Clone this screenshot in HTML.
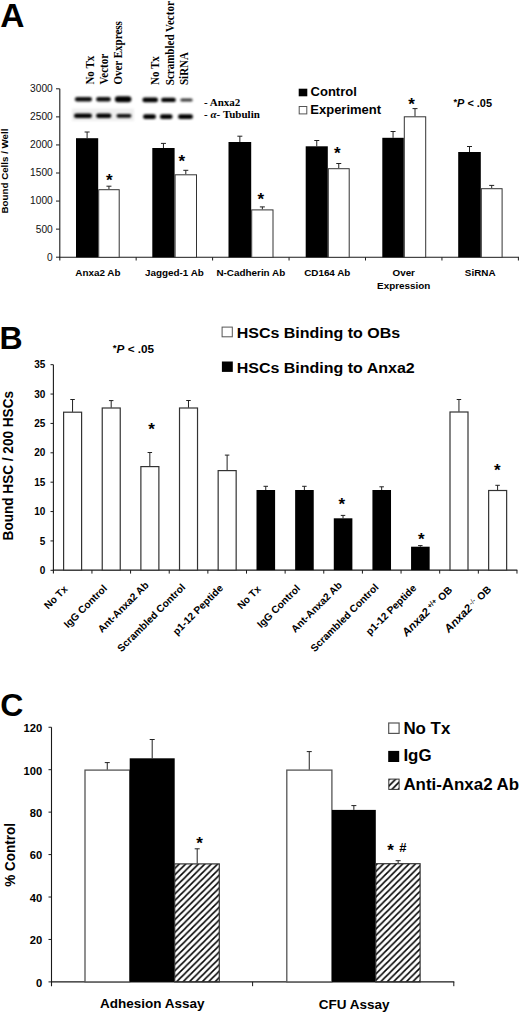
<!DOCTYPE html>
<html><head><meta charset="utf-8"><title>Figure</title>
<style>
html,body{margin:0;padding:0;background:#fff;}
body{width:520px;height:1013px;overflow:hidden;font-family:"Liberation Sans", sans-serif;}
svg{display:block;}
</style></head>
<body>
<svg width="520" height="1013" viewBox="0 0 520 1013">
<rect x="0" y="0" width="520" height="1013" fill="#fff"/>
<text x="0.2" y="27" font-family='"Liberation Sans", sans-serif' font-size="33.5" font-weight="bold" text-anchor="start" fill="#000" >A</text>
<line x1="59.8" y1="88.81" x2="59.8" y2="260.5" stroke="#1a1a1a" stroke-width="1.1"/>
<line x1="56" y1="257.2" x2="59.7" y2="257.2" stroke="#1a1a1a" stroke-width="1"/>
<text x="52.75" y="260.59999999999997" font-family='"Liberation Sans", sans-serif' font-size="10.2" font-weight="normal" text-anchor="end" fill="#111" >0</text>
<line x1="56" y1="229.135" x2="59.7" y2="229.135" stroke="#1a1a1a" stroke-width="1"/>
<text x="52.75" y="232.535" font-family='"Liberation Sans", sans-serif' font-size="10.2" font-weight="normal" text-anchor="end" fill="#111" >500</text>
<line x1="56" y1="201.07" x2="59.7" y2="201.07" stroke="#1a1a1a" stroke-width="1"/>
<text x="52.75" y="204.47" font-family='"Liberation Sans", sans-serif' font-size="10.2" font-weight="normal" text-anchor="end" fill="#111" >1000</text>
<line x1="56" y1="173.005" x2="59.7" y2="173.005" stroke="#1a1a1a" stroke-width="1"/>
<text x="52.75" y="176.405" font-family='"Liberation Sans", sans-serif' font-size="10.2" font-weight="normal" text-anchor="end" fill="#111" >1500</text>
<line x1="56" y1="144.94" x2="59.7" y2="144.94" stroke="#1a1a1a" stroke-width="1"/>
<text x="52.75" y="148.34" font-family='"Liberation Sans", sans-serif' font-size="10.2" font-weight="normal" text-anchor="end" fill="#111" >2000</text>
<line x1="56" y1="116.875" x2="59.7" y2="116.875" stroke="#1a1a1a" stroke-width="1"/>
<text x="52.75" y="120.275" font-family='"Liberation Sans", sans-serif' font-size="10.2" font-weight="normal" text-anchor="end" fill="#111" >2500</text>
<line x1="56" y1="88.81" x2="59.7" y2="88.81" stroke="#1a1a1a" stroke-width="1"/>
<text x="52.75" y="92.21000000000001" font-family='"Liberation Sans", sans-serif' font-size="10.2" font-weight="normal" text-anchor="end" fill="#111" >3000</text>
<line x1="59.2" y1="257.3" x2="519" y2="257.3" stroke="#1a1a1a" stroke-width="1.1"/>
<line x1="136.15" y1="257.3" x2="136.15" y2="260.5" stroke="#1a1a1a" stroke-width="1"/>
<line x1="212.60000000000002" y1="257.3" x2="212.60000000000002" y2="260.5" stroke="#1a1a1a" stroke-width="1"/>
<line x1="289.05" y1="257.3" x2="289.05" y2="260.5" stroke="#1a1a1a" stroke-width="1"/>
<line x1="365.5" y1="257.3" x2="365.5" y2="260.5" stroke="#1a1a1a" stroke-width="1"/>
<line x1="441.95" y1="257.3" x2="441.95" y2="260.5" stroke="#1a1a1a" stroke-width="1"/>
<line x1="518.4000000000001" y1="257.3" x2="518.4000000000001" y2="260.5" stroke="#1a1a1a" stroke-width="1"/>
<line x1="87.1" y1="132" x2="87.1" y2="138.2" stroke="#222" stroke-width="1"/>
<line x1="84.6" y1="132" x2="89.6" y2="132" stroke="#222" stroke-width="1"/>
<line x1="108.95" y1="186.2" x2="108.95" y2="189.2" stroke="#222" stroke-width="1"/>
<line x1="106.45" y1="186.2" x2="111.45" y2="186.2" stroke="#222" stroke-width="1"/>
<rect x="76" y="138.2" width="22.200000000000003" height="119.10000000000002" fill="#000" stroke="none" stroke-width="1"/>
<rect x="98.7" y="189.7" width="20.5" height="67.60000000000002" fill="#fff" stroke="#333" stroke-width="1"/>
<line x1="163.45" y1="143.4" x2="163.45" y2="148" stroke="#222" stroke-width="1"/>
<line x1="160.95" y1="143.4" x2="165.95" y2="143.4" stroke="#222" stroke-width="1"/>
<line x1="185.8" y1="170.3" x2="185.8" y2="174.3" stroke="#222" stroke-width="1"/>
<line x1="183.3" y1="170.3" x2="188.3" y2="170.3" stroke="#222" stroke-width="1"/>
<rect x="152.3" y="148" width="22.299999999999983" height="109.30000000000001" fill="#000" stroke="none" stroke-width="1"/>
<rect x="175.1" y="174.8" width="21.400000000000006" height="82.5" fill="#fff" stroke="#333" stroke-width="1"/>
<line x1="239.85" y1="136.2" x2="239.85" y2="142" stroke="#222" stroke-width="1"/>
<line x1="237.35" y1="136.2" x2="242.35" y2="136.2" stroke="#222" stroke-width="1"/>
<line x1="262.35" y1="206.9" x2="262.35" y2="209.4" stroke="#222" stroke-width="1"/>
<line x1="259.85" y1="206.9" x2="264.85" y2="206.9" stroke="#222" stroke-width="1"/>
<rect x="228.5" y="142" width="22.69999999999999" height="115.30000000000001" fill="#000" stroke="none" stroke-width="1"/>
<rect x="251.7" y="209.9" width="21.30000000000001" height="47.400000000000006" fill="#fff" stroke="#333" stroke-width="1"/>
<line x1="316.75" y1="140.5" x2="316.75" y2="146.3" stroke="#222" stroke-width="1"/>
<line x1="314.25" y1="140.5" x2="319.25" y2="140.5" stroke="#222" stroke-width="1"/>
<line x1="338.75" y1="163.5" x2="338.75" y2="168.2" stroke="#222" stroke-width="1"/>
<line x1="336.25" y1="163.5" x2="341.25" y2="163.5" stroke="#222" stroke-width="1"/>
<rect x="305.7" y="146.3" width="22.100000000000023" height="111.0" fill="#000" stroke="none" stroke-width="1"/>
<rect x="328.3" y="168.7" width="20.899999999999977" height="88.60000000000002" fill="#fff" stroke="#333" stroke-width="1"/>
<line x1="393.05" y1="131.5" x2="393.05" y2="137.8" stroke="#222" stroke-width="1"/>
<line x1="390.55" y1="131.5" x2="395.55" y2="131.5" stroke="#222" stroke-width="1"/>
<line x1="415.0" y1="108.6" x2="415.0" y2="116.3" stroke="#222" stroke-width="1"/>
<line x1="412.5" y1="108.6" x2="417.5" y2="108.6" stroke="#222" stroke-width="1"/>
<rect x="382.3" y="137.8" width="21.5" height="119.5" fill="#000" stroke="none" stroke-width="1"/>
<rect x="404.3" y="116.8" width="21.399999999999977" height="140.5" fill="#fff" stroke="#333" stroke-width="1"/>
<line x1="469.5" y1="146.5" x2="469.5" y2="152" stroke="#222" stroke-width="1"/>
<line x1="467.0" y1="146.5" x2="472.0" y2="146.5" stroke="#222" stroke-width="1"/>
<line x1="491.70000000000005" y1="185.4" x2="491.70000000000005" y2="188.2" stroke="#222" stroke-width="1"/>
<line x1="489.20000000000005" y1="185.4" x2="494.20000000000005" y2="185.4" stroke="#222" stroke-width="1"/>
<rect x="458.2" y="152" width="22.600000000000023" height="105.30000000000001" fill="#000" stroke="none" stroke-width="1"/>
<rect x="481.3" y="188.7" width="20.80000000000001" height="68.60000000000002" fill="#fff" stroke="#333" stroke-width="1"/>
<text x="106.09" y="186.19" font-family='"Liberation Sans", sans-serif' font-size="17" font-weight="bold">*</text>
<text x="178.49" y="166.69" font-family='"Liberation Sans", sans-serif' font-size="17" font-weight="bold">*</text>
<text x="257.49" y="204.74" font-family='"Liberation Sans", sans-serif' font-size="17" font-weight="bold">*</text>
<text x="333.88" y="159.14" font-family='"Liberation Sans", sans-serif' font-size="17" font-weight="bold">*</text>
<text x="408.19" y="109.99" font-family='"Liberation Sans", sans-serif' font-size="17" font-weight="bold">*</text>
<text x="97.92500000000001" y="275.5" font-family='"Liberation Sans", sans-serif' font-size="9.9" font-weight="bold" text-anchor="middle" fill="#000" >Anxa2 Ab</text>
<text x="174.375" y="275.5" font-family='"Liberation Sans", sans-serif' font-size="9.9" font-weight="bold" text-anchor="middle" fill="#000" >Jagged-1 Ab</text>
<text x="250.825" y="275.5" font-family='"Liberation Sans", sans-serif' font-size="9.9" font-weight="bold" text-anchor="middle" fill="#000" >N-Cadherin Ab</text>
<text x="327.275" y="275.5" font-family='"Liberation Sans", sans-serif' font-size="9.9" font-weight="bold" text-anchor="middle" fill="#000" >CD164 Ab</text>
<text x="480.175" y="275.5" font-family='"Liberation Sans", sans-serif' font-size="9.9" font-weight="bold" text-anchor="middle" fill="#000" >SiRNA</text>
<text x="403.725" y="275.6" font-family='"Liberation Sans", sans-serif' font-size="9.9" font-weight="bold" text-anchor="middle" fill="#000" >Over</text>
<text x="403.725" y="288.6" font-family='"Liberation Sans", sans-serif' font-size="9.9" font-weight="bold" text-anchor="middle" fill="#000" >Expression</text>
<text transform="translate(7.7,171) rotate(-90)" font-family='"Liberation Sans", sans-serif' font-size="9.75" font-weight="bold" text-anchor="middle">Bound Cells / Well</text>
<rect x="298.7" y="88.7" width="8.6" height="7.6" fill="#000" stroke="none" stroke-width="1"/>
<rect x="299.2" y="106.5" width="7.6" height="7.4" fill="#fff" stroke="#555" stroke-width="1"/>
<text x="310.6" y="96.3" font-family='"Liberation Sans", sans-serif' font-size="13" font-weight="bold" text-anchor="start" fill="#000" >Control</text>
<text x="310.3" y="114.2" font-family='"Liberation Sans", sans-serif' font-size="13" font-weight="bold" text-anchor="start" fill="#000" >Experiment</text>
<text transform="translate(453.4,106.6) scale(1.07,1)" font-family='"Liberation Sans", sans-serif' font-size="10.23" font-weight="bold"><tspan font-size="8.8" dy="-1.6">*</tspan><tspan font-style="italic" dy="1.6">P</tspan> &lt; .05</text>
<defs><filter id="bl" x="-20%" y="-100%" width="140%" height="300%"><feGaussianBlur stdDeviation="0.85"/></filter><filter id="bl2" x="-20%" y="-50%" width="140%" height="200%"><feGaussianBlur stdDeviation="1.2"/></filter><pattern id="hatch" patternUnits="userSpaceOnUse" width="6.4" height="6.4" patternTransform="translate(0.0,0)"><path d="M-1,1 l2,-2 M0,6.4 l6.4,-6.4 M5.4,7.4 l2,-2" stroke="#000" stroke-width="1.5"/></pattern><pattern id="hatch2" patternUnits="userSpaceOnUse" width="6.4" height="6.4" patternTransform="translate(5.7,0)"><path d="M-1,1 l2,-2 M0,6.4 l6.4,-6.4 M5.4,7.4 l2,-2" stroke="#000" stroke-width="1.5"/></pattern><pattern id="hatch3" patternUnits="userSpaceOnUse" width="6.45" height="6.45" patternTransform="translate(0.95,0)"><path d="M-1,1 l2,-2 M0,6.45 l6.45,-6.45 M5.45,7.45 l2,-2" stroke="#000" stroke-width="1.6"/></pattern></defs>
<rect x="72" y="108.5" width="62" height="12.5" fill="#efefef" filter="url(#bl2)"/>
<rect x="74.9" y="97.1" width="17.099999999999994" height="4.4" rx="2.2" fill="#000" fill-opacity="0.95" filter="url(#bl)"/>
<rect x="96.1" y="97.1" width="14.700000000000003" height="4.4" rx="2.2" fill="#000" fill-opacity="0.95" filter="url(#bl)"/>
<rect x="114.9" y="96.3" width="16.5" height="6.0" rx="3.0" fill="#000" fill-opacity="1" filter="url(#bl)"/>
<rect x="74.0" y="113.5" width="18.0" height="4.6" rx="2.3" fill="#000" fill-opacity="1" filter="url(#bl)"/>
<rect x="96.1" y="113.5" width="15.300000000000011" height="4.6" rx="2.3" fill="#000" fill-opacity="1" filter="url(#bl)"/>
<rect x="116.5" y="113.89999999999999" width="14.900000000000006" height="3.8" rx="1.9" fill="#000" fill-opacity="0.95" filter="url(#bl)"/>
<rect x="142.4" y="97.60000000000001" width="15.599999999999994" height="4.6" rx="2.3" fill="#000" fill-opacity="1" filter="url(#bl)"/>
<rect x="161.1" y="97.7" width="14.700000000000017" height="4.4" rx="2.2" fill="#000" fill-opacity="1" filter="url(#bl)"/>
<rect x="180.3" y="98.4" width="12.299999999999983" height="3.0" rx="1.5" fill="#000" fill-opacity="0.8" filter="url(#bl)"/>
<rect x="143.0" y="114.3" width="13.0" height="4.8" rx="2.4" fill="#000" fill-opacity="1" filter="url(#bl)"/>
<rect x="159.9" y="114.3" width="12.699999999999989" height="4.8" rx="2.4" fill="#000" fill-opacity="1" filter="url(#bl)"/>
<rect x="178.0" y="114.3" width="15.0" height="4.8" rx="2.4" fill="#000" fill-opacity="1" filter="url(#bl)"/>
<text transform="translate(93.5,84.6) rotate(-90) scale(1,1.06)" font-family='"Liberation Serif", serif' font-size="11" font-weight="bold">No Tx</text>
<text transform="translate(108.4,84.6) rotate(-90) scale(1,1.06)" font-family='"Liberation Serif", serif' font-size="11" font-weight="bold">Vector</text>
<text transform="translate(121.8,84.6) rotate(-90) scale(1,1.06)" font-family='"Liberation Serif", serif' font-size="11" font-weight="bold">Over Express</text>
<text transform="translate(159,85) rotate(-90) scale(1,1.06)" font-family='"Liberation Serif", serif' font-size="11" font-weight="bold">No Tx</text>
<text transform="translate(174,85.2) rotate(-90) scale(1,1.06)" font-family='"Liberation Serif", serif' font-size="11" font-weight="bold">Scrambled Vector</text>
<text transform="translate(188.4,85) rotate(-90) scale(1,1.06)" font-family='"Liberation Serif", serif' font-size="11" font-weight="bold">SiRNA</text>
<text transform="translate(204,105.5) scale(1.05,1)" font-family='"Liberation Serif", serif' font-size="10.48" font-weight="bold">- Anxa2</text>
<text transform="translate(204,117.9) scale(1.05,1)" font-family='"Liberation Serif", serif' font-size="10.48" font-weight="bold">- <tspan font-style="italic">α</tspan>- Tubulin</text>
<text x="-0.54" y="348.6" font-family='"Liberation Sans", sans-serif' font-size="32" font-weight="bold" text-anchor="start" fill="#000" >B</text>
<line x1="53.4" y1="364.67499999999995" x2="53.4" y2="573.6" stroke="#1a1a1a" stroke-width="1.1"/>
<line x1="50.5" y1="570.3" x2="53.4" y2="570.3" stroke="#1a1a1a" stroke-width="1"/>
<text x="45.35" y="573.9499999999999" font-family='"Liberation Sans", sans-serif' font-size="10" font-weight="bold" text-anchor="end" fill="#000" >0</text>
<line x1="50.5" y1="540.925" x2="53.4" y2="540.925" stroke="#1a1a1a" stroke-width="1"/>
<text x="45.35" y="544.5749999999999" font-family='"Liberation Sans", sans-serif' font-size="10" font-weight="bold" text-anchor="end" fill="#000" >5</text>
<line x1="50.5" y1="511.54999999999995" x2="53.4" y2="511.54999999999995" stroke="#1a1a1a" stroke-width="1"/>
<text x="45.35" y="515.1999999999999" font-family='"Liberation Sans", sans-serif' font-size="10" font-weight="bold" text-anchor="end" fill="#000" >10</text>
<line x1="50.5" y1="482.17499999999995" x2="53.4" y2="482.17499999999995" stroke="#1a1a1a" stroke-width="1"/>
<text x="45.35" y="485.82499999999993" font-family='"Liberation Sans", sans-serif' font-size="10" font-weight="bold" text-anchor="end" fill="#000" >15</text>
<line x1="50.5" y1="452.79999999999995" x2="53.4" y2="452.79999999999995" stroke="#1a1a1a" stroke-width="1"/>
<text x="45.35" y="456.44999999999993" font-family='"Liberation Sans", sans-serif' font-size="10" font-weight="bold" text-anchor="end" fill="#000" >20</text>
<line x1="50.5" y1="423.42499999999995" x2="53.4" y2="423.42499999999995" stroke="#1a1a1a" stroke-width="1"/>
<text x="45.35" y="427.07499999999993" font-family='"Liberation Sans", sans-serif' font-size="10" font-weight="bold" text-anchor="end" fill="#000" >25</text>
<line x1="50.5" y1="394.04999999999995" x2="53.4" y2="394.04999999999995" stroke="#1a1a1a" stroke-width="1"/>
<text x="45.35" y="397.69999999999993" font-family='"Liberation Sans", sans-serif' font-size="10" font-weight="bold" text-anchor="end" fill="#000" >30</text>
<line x1="50.5" y1="364.67499999999995" x2="53.4" y2="364.67499999999995" stroke="#1a1a1a" stroke-width="1"/>
<text x="45.35" y="368.32499999999993" font-family='"Liberation Sans", sans-serif' font-size="10" font-weight="bold" text-anchor="end" fill="#000" >35</text>
<line x1="52.9" y1="570.1" x2="517.3" y2="570.1" stroke="#1a1a1a" stroke-width="1.1"/>
<line x1="91.94" y1="570.1" x2="91.94" y2="573.6" stroke="#1a1a1a" stroke-width="1"/>
<line x1="130.57999999999998" y1="570.1" x2="130.57999999999998" y2="573.6" stroke="#1a1a1a" stroke-width="1"/>
<line x1="169.22" y1="570.1" x2="169.22" y2="573.6" stroke="#1a1a1a" stroke-width="1"/>
<line x1="207.86" y1="570.1" x2="207.86" y2="573.6" stroke="#1a1a1a" stroke-width="1"/>
<line x1="246.5" y1="570.1" x2="246.5" y2="573.6" stroke="#1a1a1a" stroke-width="1"/>
<line x1="285.14" y1="570.1" x2="285.14" y2="573.6" stroke="#1a1a1a" stroke-width="1"/>
<line x1="323.78000000000003" y1="570.1" x2="323.78000000000003" y2="573.6" stroke="#1a1a1a" stroke-width="1"/>
<line x1="362.42" y1="570.1" x2="362.42" y2="573.6" stroke="#1a1a1a" stroke-width="1"/>
<line x1="401.06" y1="570.1" x2="401.06" y2="573.6" stroke="#1a1a1a" stroke-width="1"/>
<line x1="439.7" y1="570.1" x2="439.7" y2="573.6" stroke="#1a1a1a" stroke-width="1"/>
<line x1="478.34000000000003" y1="570.1" x2="478.34000000000003" y2="573.6" stroke="#1a1a1a" stroke-width="1"/>
<line x1="516.98" y1="570.1" x2="516.98" y2="573.6" stroke="#1a1a1a" stroke-width="1"/>
<line x1="72.55" y1="399.5" x2="72.55" y2="411.9" stroke="#222" stroke-width="1"/>
<line x1="70.3" y1="399.5" x2="74.8" y2="399.5" stroke="#222" stroke-width="1"/>
<rect x="63.599999999999994" y="412.2" width="18.0" height="157.90000000000003" fill="#fff" stroke="#333" stroke-width="1.2"/>
<line x1="111.19" y1="400.6" x2="111.19" y2="407.7" stroke="#222" stroke-width="1"/>
<line x1="108.94" y1="400.6" x2="113.44" y2="400.6" stroke="#222" stroke-width="1"/>
<rect x="102.24" y="408.0" width="18.0" height="162.10000000000002" fill="#fff" stroke="#333" stroke-width="1.2"/>
<line x1="149.82999999999998" y1="452.5" x2="149.82999999999998" y2="466.3" stroke="#222" stroke-width="1"/>
<line x1="147.57999999999998" y1="452.5" x2="152.07999999999998" y2="452.5" stroke="#222" stroke-width="1"/>
<rect x="140.88" y="466.6" width="18.0" height="103.50000000000001" fill="#fff" stroke="#333" stroke-width="1.2"/>
<line x1="188.47" y1="400.5" x2="188.47" y2="407.7" stroke="#222" stroke-width="1"/>
<line x1="186.22" y1="400.5" x2="190.72" y2="400.5" stroke="#222" stroke-width="1"/>
<rect x="179.52" y="408.0" width="18.0" height="162.10000000000002" fill="#fff" stroke="#333" stroke-width="1.2"/>
<line x1="227.11" y1="455.1" x2="227.11" y2="470.3" stroke="#222" stroke-width="1"/>
<line x1="224.86" y1="455.1" x2="229.36" y2="455.1" stroke="#222" stroke-width="1"/>
<rect x="218.16000000000003" y="470.6" width="18.0" height="99.50000000000001" fill="#fff" stroke="#333" stroke-width="1.2"/>
<line x1="265.75" y1="486.3" x2="265.75" y2="490" stroke="#222" stroke-width="1"/>
<line x1="263.5" y1="486.3" x2="268.0" y2="486.3" stroke="#222" stroke-width="1"/>
<rect x="256.5" y="490" width="18.6" height="80.10000000000002" fill="#000" stroke="none" stroke-width="1"/>
<line x1="304.39" y1="486.3" x2="304.39" y2="490" stroke="#222" stroke-width="1"/>
<line x1="302.14" y1="486.3" x2="306.64" y2="486.3" stroke="#222" stroke-width="1"/>
<rect x="295.14" y="490" width="18.6" height="80.10000000000002" fill="#000" stroke="none" stroke-width="1"/>
<line x1="343.03000000000003" y1="515.4" x2="343.03000000000003" y2="518.3" stroke="#222" stroke-width="1"/>
<line x1="340.78000000000003" y1="515.4" x2="345.28000000000003" y2="515.4" stroke="#222" stroke-width="1"/>
<rect x="333.78000000000003" y="518.3" width="18.6" height="51.80000000000007" fill="#000" stroke="none" stroke-width="1"/>
<line x1="381.67" y1="486.8" x2="381.67" y2="490" stroke="#222" stroke-width="1"/>
<line x1="379.42" y1="486.8" x2="383.92" y2="486.8" stroke="#222" stroke-width="1"/>
<rect x="372.42" y="490" width="18.6" height="80.10000000000002" fill="#000" stroke="none" stroke-width="1"/>
<line x1="420.31" y1="545.6" x2="420.31" y2="546.7" stroke="#222" stroke-width="1"/>
<line x1="418.06" y1="545.6" x2="422.56" y2="545.6" stroke="#222" stroke-width="1"/>
<rect x="411.06" y="546.7" width="18.6" height="23.399999999999977" fill="#000" stroke="none" stroke-width="1"/>
<line x1="458.95" y1="399.5" x2="458.95" y2="411.7" stroke="#222" stroke-width="1"/>
<line x1="456.7" y1="399.5" x2="461.2" y2="399.5" stroke="#222" stroke-width="1"/>
<rect x="450.0" y="412.0" width="18.0" height="158.10000000000002" fill="#fff" stroke="#333" stroke-width="1.2"/>
<line x1="497.59000000000003" y1="485.3" x2="497.59000000000003" y2="490.2" stroke="#222" stroke-width="1"/>
<line x1="495.34000000000003" y1="485.3" x2="499.84000000000003" y2="485.3" stroke="#222" stroke-width="1"/>
<rect x="488.64000000000004" y="490.5" width="18.0" height="79.60000000000004" fill="#fff" stroke="#333" stroke-width="1.2"/>
<text x="148.19" y="434.69" font-family='"Liberation Sans", sans-serif' font-size="17" font-weight="bold">*</text>
<text x="338.58" y="509.73" font-family='"Liberation Sans", sans-serif' font-size="17" font-weight="bold">*</text>
<text x="418.08" y="544.63" font-family='"Liberation Sans", sans-serif' font-size="17" font-weight="bold">*</text>
<text x="493.99" y="475.83" font-family='"Liberation Sans", sans-serif' font-size="17" font-weight="bold">*</text>
<rect x="222.1" y="327.1" width="10.2" height="9.7" fill="#fff" stroke="#555" stroke-width="1"/>
<rect x="221.9" y="361.5" width="10.9" height="10.4" fill="#000" stroke="none" stroke-width="1"/>
<text transform="translate(236.7,338.2) scale(1.04,1)" font-family='"Liberation Sans", sans-serif' font-size="15.385" font-weight="bold" text-anchor="start" fill="#000" >HSCs Binding to OBs</text>
<text transform="translate(236.7,372.8) scale(1.04,1)" font-family='"Liberation Sans", sans-serif' font-size="15.385" font-weight="bold" text-anchor="start" fill="#000" >HSCs Binding to Anxa2</text>
<text transform="translate(112.7,352.5) scale(1.05,1)" font-family='"Liberation Sans", sans-serif' font-size="11.19" font-weight="bold"><tspan font-size="9.4" dy="-1.7">*</tspan><tspan font-style="italic" dy="1.7">P</tspan> &lt; .05</text>
<text transform="translate(12.9,465.7) rotate(-90) scale(1,1.12)" font-family='"Liberation Sans", sans-serif' font-size="13.6" font-weight="bold" text-anchor="middle">Bound HSC / 200 HSCs</text>
<text transform="translate(68.22,589.80) rotate(-45)" font-family='"Liberation Sans", sans-serif' font-size="10.2" font-weight="bold" text-anchor="end">No Tx</text>
<text transform="translate(107.68,588.98) rotate(-45)" font-family='"Liberation Sans", sans-serif' font-size="10.2" font-weight="bold" text-anchor="end">IgG Control</text>
<text transform="translate(149.46,585.84) rotate(-45)" font-family='"Liberation Sans", sans-serif' font-size="10.2" font-weight="bold" text-anchor="end">Ant-Anxa2 Ab</text>
<text transform="translate(185.98,587.96) rotate(-45)" font-family='"Liberation Sans", sans-serif' font-size="10.2" font-weight="bold" text-anchor="end">Scrambled Control</text>
<text transform="translate(223.77,588.81) rotate(-45)" font-family='"Liberation Sans", sans-serif' font-size="10.2" font-weight="bold" text-anchor="end">p1-12 Peptide</text>
<text transform="translate(261.42,589.80) rotate(-45)" font-family='"Liberation Sans", sans-serif' font-size="10.2" font-weight="bold" text-anchor="end">No Tx</text>
<text transform="translate(300.88,588.98) rotate(-45)" font-family='"Liberation Sans", sans-serif' font-size="10.2" font-weight="bold" text-anchor="end">IgG Control</text>
<text transform="translate(342.66,585.84) rotate(-45)" font-family='"Liberation Sans", sans-serif' font-size="10.2" font-weight="bold" text-anchor="end">Ant-Anxa2 Ab</text>
<text transform="translate(379.18,587.96) rotate(-45)" font-family='"Liberation Sans", sans-serif' font-size="10.2" font-weight="bold" text-anchor="end">Scrambled Control</text>
<text transform="translate(416.97,588.81) rotate(-45)" font-family='"Liberation Sans", sans-serif' font-size="10.2" font-weight="bold" text-anchor="end">p1-12 Peptide</text>
<text transform="translate(452.87,590.65) rotate(-45)" font-family='"Liberation Sans", sans-serif' font-size="10.2" font-weight="bold" text-anchor="end"><tspan font-style="italic" font-size="11.4">Anxa2</tspan><tspan font-size="7.2" dx="2.2" dy="-3.4">+/+</tspan><tspan dx="0.6" dy="3.4"> OB</tspan></text>
<text transform="translate(491.91,590.15) rotate(-45)" font-family='"Liberation Sans", sans-serif' font-size="10.2" font-weight="bold" text-anchor="end"><tspan font-style="italic" font-size="11.4">Anxa2</tspan><tspan font-weight="normal" font-size="7.2" dx="1.2" dy="-3.4">-/-</tspan><tspan dx="0.6" dy="3.4"> OB</tspan></text>
<text x="0.2" y="716.2" font-family='"Liberation Sans", sans-serif' font-size="32" font-weight="bold" text-anchor="start" fill="#000" >C</text>
<line x1="51.5" y1="727.26" x2="51.5" y2="986.2" stroke="#1a1a1a" stroke-width="1.1"/>
<line x1="48.5" y1="981.9" x2="51.5" y2="981.9" stroke="#1a1a1a" stroke-width="1"/>
<text x="42.2" y="986.8" font-family='"Liberation Sans", sans-serif' font-size="11.2" font-weight="bold" text-anchor="end" fill="#000" >0</text>
<line x1="48.5" y1="939.46" x2="51.5" y2="939.46" stroke="#1a1a1a" stroke-width="1"/>
<text x="42.2" y="944.36" font-family='"Liberation Sans", sans-serif' font-size="11.2" font-weight="bold" text-anchor="end" fill="#000" >20</text>
<line x1="48.5" y1="897.02" x2="51.5" y2="897.02" stroke="#1a1a1a" stroke-width="1"/>
<text x="42.2" y="901.92" font-family='"Liberation Sans", sans-serif' font-size="11.2" font-weight="bold" text-anchor="end" fill="#000" >40</text>
<line x1="48.5" y1="854.5799999999999" x2="51.5" y2="854.5799999999999" stroke="#1a1a1a" stroke-width="1"/>
<text x="42.2" y="859.4799999999999" font-family='"Liberation Sans", sans-serif' font-size="11.2" font-weight="bold" text-anchor="end" fill="#000" >60</text>
<line x1="48.5" y1="812.14" x2="51.5" y2="812.14" stroke="#1a1a1a" stroke-width="1"/>
<text x="42.2" y="817.04" font-family='"Liberation Sans", sans-serif' font-size="11.2" font-weight="bold" text-anchor="end" fill="#000" >80</text>
<line x1="48.5" y1="769.7" x2="51.5" y2="769.7" stroke="#1a1a1a" stroke-width="1"/>
<text x="42.2" y="774.6" font-family='"Liberation Sans", sans-serif' font-size="11.2" font-weight="bold" text-anchor="end" fill="#000" >100</text>
<line x1="48.5" y1="727.26" x2="51.5" y2="727.26" stroke="#1a1a1a" stroke-width="1"/>
<text x="42.2" y="732.16" font-family='"Liberation Sans", sans-serif' font-size="11.2" font-weight="bold" text-anchor="end" fill="#000" >120</text>
<line x1="51" y1="981.9" x2="454.3" y2="981.9" stroke="#1a1a1a" stroke-width="1.1"/>
<line x1="252.6" y1="981.9" x2="252.6" y2="986.2" stroke="#1a1a1a" stroke-width="1"/>
<line x1="453.8" y1="981.9" x2="453.8" y2="986.2" stroke="#1a1a1a" stroke-width="1"/>
<line x1="107.25" y1="762.6" x2="107.25" y2="769.8" stroke="#222" stroke-width="1"/>
<line x1="104.75" y1="762.6" x2="109.75" y2="762.6" stroke="#222" stroke-width="1"/>
<line x1="152.2" y1="739.5" x2="152.2" y2="758.3" stroke="#222" stroke-width="1"/>
<line x1="149.7" y1="739.5" x2="154.7" y2="739.5" stroke="#222" stroke-width="1"/>
<line x1="197.2" y1="848.8" x2="197.2" y2="863.5" stroke="#222" stroke-width="1"/>
<line x1="194.7" y1="848.8" x2="199.7" y2="848.8" stroke="#222" stroke-width="1"/>
<rect x="85.0" y="770.0999999999999" width="44.69999999999999" height="211.8" fill="#fff" stroke="#555" stroke-width="1.3"/>
<rect x="129.7" y="758.3" width="45.0" height="223.60000000000002" fill="#000" stroke="none" stroke-width="1"/>
<rect x="174.7" y="863.9" width="44.6" height="117.99999999999997" fill="url(#hatch)" stroke="#333" stroke-width="1.2"/>
<line x1="309.25" y1="751.6" x2="309.25" y2="769.8" stroke="#222" stroke-width="1"/>
<line x1="306.75" y1="751.6" x2="311.75" y2="751.6" stroke="#222" stroke-width="1"/>
<line x1="353.85" y1="805.6" x2="353.85" y2="809.9" stroke="#222" stroke-width="1"/>
<line x1="351.35" y1="805.6" x2="356.35" y2="805.6" stroke="#222" stroke-width="1"/>
<line x1="398.15" y1="860.7" x2="398.15" y2="863.3" stroke="#222" stroke-width="1"/>
<line x1="395.65" y1="860.7" x2="400.65" y2="860.7" stroke="#222" stroke-width="1"/>
<rect x="286.8" y="770.0999999999999" width="45.09999999999995" height="211.8" fill="#fff" stroke="#555" stroke-width="1.3"/>
<rect x="331.9" y="809.9" width="43.900000000000034" height="172.0" fill="#000" stroke="none" stroke-width="1"/>
<rect x="375.8" y="863.6999999999999" width="44.29999999999999" height="118.20000000000002" fill="url(#hatch2)" stroke="#333" stroke-width="1.2"/>
<text x="196.24" y="849.19" font-family='"Liberation Sans", sans-serif' font-size="17" font-weight="bold">*</text>
<text x="387.29" y="855.88" font-family='"Liberation Sans", sans-serif' font-size="17" font-weight="bold">*</text>
<text x="399.2" y="851.7" font-family='"Liberation Sans", sans-serif' font-size="13" font-weight="bold" text-anchor="start" fill="#000" >#</text>
<rect x="388.7" y="723" width="10.4" height="10.4" fill="#fff" stroke="#555" stroke-width="1.2"/>
<rect x="388.2" y="750.9" width="11" height="11.1" fill="#000" stroke="none" stroke-width="1"/>
<rect x="388.8" y="779.1" width="10.3" height="10.3" fill="url(#hatch3)" stroke="#333" stroke-width="1.0"/>
<text x="403.4" y="733.7" font-family='"Liberation Sans", sans-serif' font-size="16.9" font-weight="bold" text-anchor="start" fill="#000" >No Tx</text>
<text x="403.4" y="761.2" font-family='"Liberation Sans", sans-serif' font-size="16.9" font-weight="bold" text-anchor="start" fill="#000" >IgG</text>
<text x="403.4" y="790" font-family='"Liberation Sans", sans-serif' font-size="16.9" font-weight="bold" text-anchor="start" fill="#000" >Anti-Anxa2 Ab</text>
<text transform="translate(15.0,854.8) rotate(-90) scale(1,1.12)" font-family='"Liberation Sans", sans-serif' font-size="13.5" font-weight="bold" text-anchor="middle">% Control</text>
<text x="152.3" y="1007.8" font-family='"Liberation Sans", sans-serif' font-size="13.5" font-weight="bold" text-anchor="middle" fill="#000" >Adhesion Assay</text>
<text x="354.2" y="1008.5" font-family='"Liberation Sans", sans-serif' font-size="13.5" font-weight="bold" text-anchor="middle" fill="#000" >CFU Assay</text>
</svg>
</body></html>
